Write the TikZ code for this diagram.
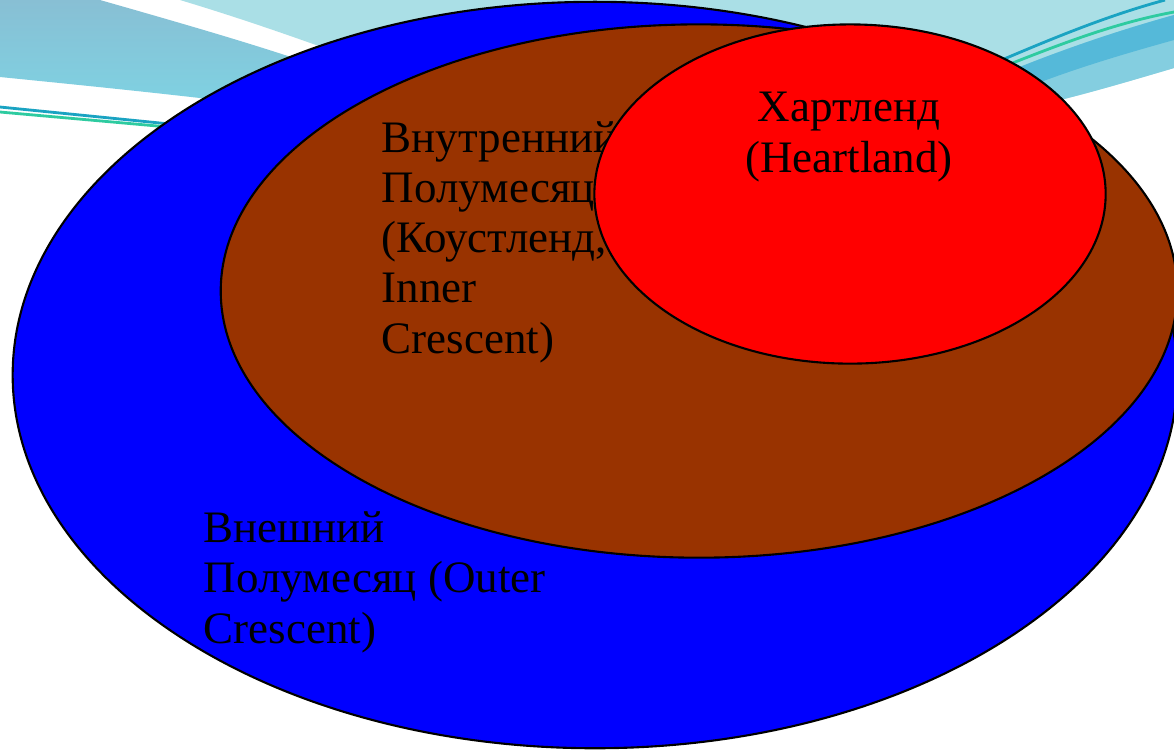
\documentclass[tikz,border=0pt]{standalone}
\usepackage{fontspec}
\setmainfont{Liberation Serif}
\usetikzlibrary{shapes.geometric}

\definecolor{sfondochiaro}{HTML}{AADFE6}
\definecolor{sfondoscuro}{HTML}{88BFD4}
\definecolor{sfondomedio}{HTML}{7ED3E3}
\definecolor{fasciablu}{HTML}{55B9D9}
\definecolor{fasciaazzurra}{HTML}{84CEE0}
\definecolor{lineaverde}{HTML}{2ECBA0}
\definecolor{lineablu}{HTML}{1AA3C2}
\definecolor{marrone}{HTML}{993300}

\tikzset{
  zona/.style={ellipse, draw=black, line width=0.6pt, inner sep=0pt},
  testo/.style={font=\fontsize{12.8}{14.23}\selectfont, inner sep=0pt, text=black}
}

\begin{document}
\begin{tikzpicture}[x=0.01cm, y=-0.01cm]
  \useasboundingbox (0,0) rectangle (1174,750);
  \clip (0,0) rectangle (1174,750);

  % Sfondo con le fasce azzurre
  \fill[white] (0,0) rectangle (1174,750);
  \fill[sfondochiaro] (180,0) .. controls (230,15) and (280,32) .. (330,50) -- (700,60)
    -- (1060,100) .. controls (1100,90) and (1140,78) .. (1174,68) -- (1174,0) -- cycle;
  \shade[top color=sfondoscuro, bottom color=sfondomedio] (0,0) -- (100,0)
    .. controls (170,20) and (240,40) .. (300,60) -- (250,110) -- (200,98)
    .. controls (130,90) and (60,83) .. (0,77) -- cycle;
  \fill[fasciaazzurra] (1000,75) .. controls (1060,50) and (1120,30) .. (1174,15)
    -- (1174,68) .. controls (1140,78) and (1100,90) .. (1060,100) -- (950,110) -- cycle;
  \fill[fasciablu] (1000,75) .. controls (1060,50) and (1120,30) .. (1174,15)
    -- (1174,40) .. controls (1120,55) and (1070,70) .. (1020,90) -- cycle;
  \draw[lineablu, line width=0.8pt] (0,107) -- (180,125);
  \draw[lineaverde, line width=0.8pt] (0,112) -- (180,128);
  \draw[lineablu, line width=0.8pt] (990,65) .. controls (1060,35) and (1110,15) .. (1165,0);
  \draw[lineaverde, line width=0.8pt] (1000,68) .. controls (1070,40) and (1120,22) .. (1174,12);

  % Ellissi
  \node[zona, fill=blue, minimum width=11.64cm, minimum height=7.46cm] (esterno) at (595,375) {};
  \node[zona, fill=marrone, minimum width=9.56cm, minimum height=5.33cm] (interno) at (699,291) {};
  \node[testo, anchor=base west, align=left] (testoInterno) at (381,353)
    {Внутренний\\Полумесяц\\(Коустленд,\\Inner\\Crescent)};
  \node[zona, fill=red, minimum width=5.11cm, minimum height=3.39cm] (cuore) at (850,194) {};

  % Testi
  \node[testo, anchor=base, align=center] (testoCuore) at (849,172)
    {Хартленд\\(Heartland)};
  \node[testo, anchor=base west, align=left] (testoEsterno) at (203,643)
    {Внешний\\Полумесяц (Outer\\Crescent)};
\end{tikzpicture}
\end{document}
